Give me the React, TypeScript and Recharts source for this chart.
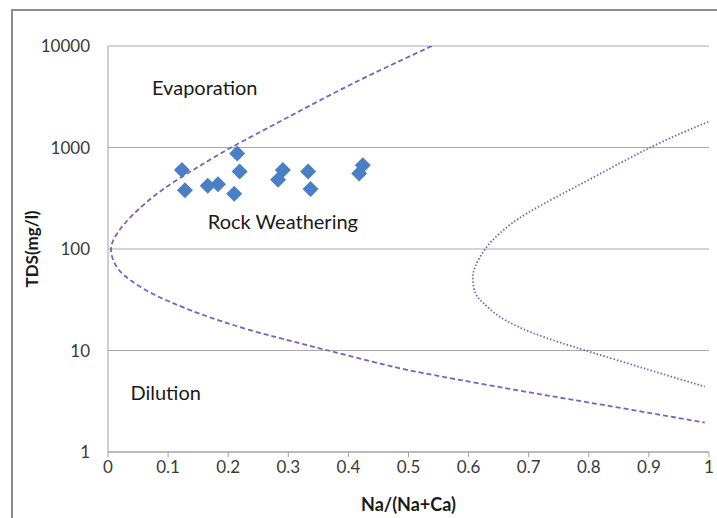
import { ComposedChart, Scatter, Line, XAxis, YAxis, CartesianGrid, ReferenceDot } from 'recharts';

// sample points: Na/(Na+Ca) vs TDS
const sampleRatio = [0.123, 0.128, 0.166, 0.183, 0.21, 0.215, 0.219, 0.283, 0.291, 0.333, 0.337, 0.418, 0.424];
const sampleTds = [600, 380, 420, 435, 350, 875, 580, 480, 600, 580, 390, 555, 670];

// Gibbs boundary, dashed (left)
const dashRatio = [0.539, 0.408, 0.297, 0.205, 0.153, 0.106, 0.062, 0.028, 0.012, 0.005, 0.015, 0.04, 0.075, 0.11, 0.153, 0.236, 0.319, 0.375, 0.458, 0.541, 0.702, 0.802, 0.902, 0.993];
const dashTds = [10000, 4290, 1950, 1000, 660, 444, 282, 179, 132, 98, 66, 48, 36, 29, 23, 15.9, 11.8, 9.7, 7.3, 5.74, 3.86, 3.06, 2.42, 1.95];

// Gibbs boundary, dotted (right)
const dotRatio = [0.999, 0.905, 0.8, 0.7, 0.652, 0.627, 0.611, 0.607, 0.612, 0.625, 0.652, 0.708, 0.797, 0.902, 0.993];
const dotTds = [1795, 1018, 480, 230, 143, 99, 67, 50, 36, 29.2, 21.5, 14.8, 9.9, 6.4, 4.4];

const xTicks = [0, 0.1, 0.2, 0.3, 0.4, 0.5, 0.6, 0.7, 0.8, 0.9, 1];
const yTicks = [1, 10, 100, 1000, 10000];

const samples = sampleRatio.map((x, i) => ({ x, y: sampleTds[i] }));
const dashLine = dashRatio.map((x, i) => ({ x, y: dashTds[i] }));
const dotLine = dotRatio.map((x, i) => ({ x, y: dotTds[i] }));

const font = 'Lato, "Open Sans", sans-serif';
const curveColor = '#7b61b8';

const Diamond = (p: any) => {
    const { cx, cy } = p;
    if (cx == null || cy == null) return <g />;
    const r = 8;
    return <polygon points={`${cx},${cy - r} ${cx + r},${cy} ${cx},${cy + r} ${cx - r},${cy}`} fill="#4a7fc6" />;
};

const regionLabel = (text: string) => ({ value: text, position: 'center' as const, fill: '#1a1a1a', fontSize: 20, fontFamily: font });

export default function App() {
    return <div style={{ position: 'absolute', left: 0, top: 0, width: 717, height: 518, background: '#fff' }}>
        <div style={{ position: 'absolute', left: 11, top: 9, right: 0, bottom: 0, borderTop: '2px solid #8c8c8c', borderLeft: '2px solid #8c8c8c' }} />
        <ComposedChart width={717} height={518} margin={{ top: 46, right: 8, left: 20, bottom: 6 }} style={{ position: 'absolute', left: 0, top: 0 }}>
            <CartesianGrid vertical={false} stroke="#a9a9a9" />
            <XAxis dataKey="x" type="number" domain={[0, 1]} ticks={xTicks} allowDataOverflow
                tickFormatter={(v: number) => String(v)} height={60}
                stroke="#a0a0a0" tickSize={5} tickMargin={4}
                tick={{ fill: '#3a3a3a', fontSize: 17, fontFamily: font }}
                label={{ value: 'Na/(Na+Ca)', position: 'insideBottom', offset: 1, fill: '#1a1a1a', fontSize: 18, fontWeight: 'bold', fontFamily: font }} />
            <YAxis dataKey="y" type="number" scale="log" domain={[1, 10000]} ticks={yTicks} allowDataOverflow
                width={88} stroke="#a0a0a0" tickLine={false} tickSize={0} tickMargin={18}
                tick={{ fill: '#3a3a3a', fontSize: 17, fontFamily: font }}
                label={{ value: 'TDS(mg/l)', angle: -90, position: 'insideLeft', offset: 12, style: { textAnchor: 'middle' }, fill: '#1a1a1a', fontSize: 17, fontWeight: 'bold', fontFamily: font }} />
            <Line data={dashLine} dataKey="y" type="natural" dot={false} activeDot={false} stroke={curveColor} strokeWidth={1.8} strokeDasharray="5 3" isAnimationActive={false} />
            <Line data={dotLine} dataKey="y" type="natural" dot={false} activeDot={false} stroke={curveColor} strokeWidth={1.8} strokeDasharray="1.5 2" isAnimationActive={false} />
            <Scatter data={samples} dataKey="y" shape={Diamond} isAnimationActive={false} />
            <ReferenceDot x={0.161} y={3880} r={1} fill="none" stroke="none" label={regionLabel('Evaporation')} />
            <ReferenceDot x={0.291} y={186} r={1} fill="none" stroke="none" label={regionLabel('Rock Weathering')} />
            <ReferenceDot x={0.096} y={3.84} r={1} fill="none" stroke="none" label={regionLabel('Dilution')} />
        </ComposedChart>
    </div>;
}
